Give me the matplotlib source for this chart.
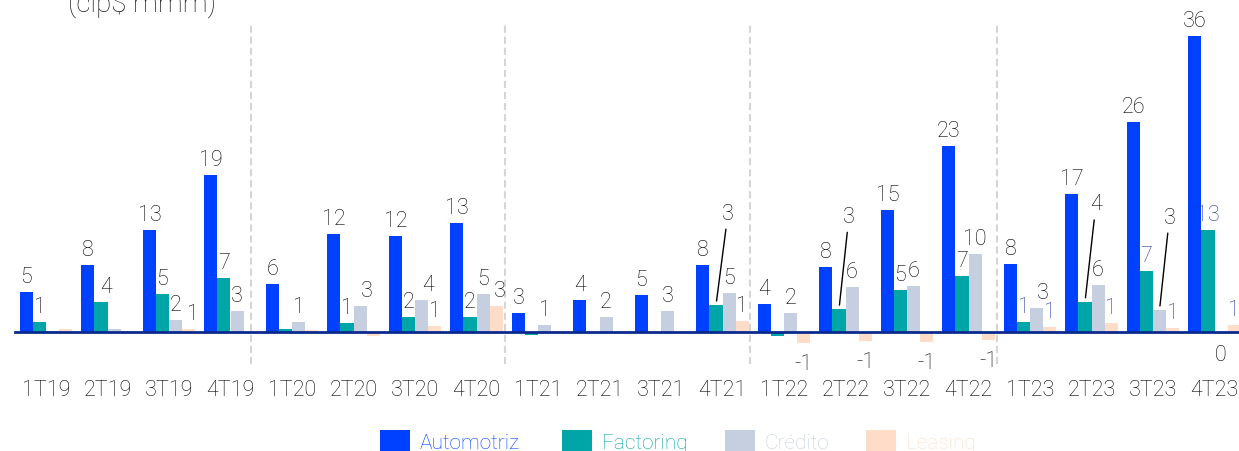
import numpy as np
import matplotlib
matplotlib.use("Agg")
import matplotlib.pyplot as plt

quarters = ["1T19", "2T19", "3T19", "4T19", "1T20", "2T20", "3T20", "4T20", "1T21", "2T21",
            "3T21", "4T21", "1T22", "2T22", "3T22", "4T22", "1T23", "2T23", "3T23", "4T23"]
series_names = ["Automotriz", "Factoring", "Crédito", "Leasing"]

# values (clp$ mmm)
automotriz = [4.9, 8.2, 12.5, 19.1, 5.9, 12.0, 11.7, 13.3, 2.4, 3.9,
              4.5, 8.2, 3.5, 8.0, 14.9, 22.7, 8.3, 16.8, 25.6, 36.0]
factoring = [1.3, 3.7, 4.6, 6.6, 0.4, 1.1, 1.8, 1.8, -0.3, 0.0,
             0.0, 3.3, -0.4, 2.8, 5.2, 6.9, 1.3, 3.7, 7.4, 12.4]
credito = [0.2, 0.4, 1.5, 2.6, 1.3, 3.2, 3.9, 4.7, 0.9, 1.8,
           2.6, 4.8, 2.3, 5.5, 5.6, 9.5, 3.0, 5.8, 2.7, -0.2]
leasing = [0.4, 0.2, 0.4, 0.0, 0.3, -0.5, 0.8, 3.2, 0.2, 0.0,
           0.2, 1.4, -1.3, -1.1, -1.2, -0.9, 0.6, 1.1, 0.5, 0.9]

# printed labels (None = no label shown)
lbl_auto = [5, 8, 13, 19, 6, 12, 12, 13, 3, 4, 5, 8, 4, 8, 15, 23, 8, 17, 26, 36]
lbl_fact = [1, 4, 5, 7, None, 1, 2, 2, None, None, None, 3, None, 3, 5, 7, 1, 4, 7, 13]
lbl_cred = [None, None, 2, 3, 1, 3, 4, 5, 1, 2, 3, 5, 2, 6, 6, 10, 3, 6, 3, 0]
lbl_leas = [None, None, 1, None, None, None, 1, 3, None, None, None, 1, -1, -1, -1, -1, 1, 1, 1, 1]

colors = ["#0041FF", "#00A5A8", "#C5CFE0", "#FFDCC7"]
navy = "#233A9C"
txt = "#000000"

# (series, quarter) labels in navy
navy_lbls = {(1, 16), (3, 16), (3, 17), (1, 18), (3, 18), (1, 19), (3, 19)}
# labels lifted with a leader line, offset in pixels
leader = {(1, 11): (12, 92), (1, 13): (10, 93), (1, 17): (11, 98), (2, 18): (10, 93)}
# small horizontal nudges in pixels
nudge = {(1, 1): 5, (2, 5): 7, (2, 6): 7, (3, 7): 4, (3, 2): 4, (2, 16): 6}

plt.rcParams["font.family"] = ["Roboto", "DejaVu Sans"]
plt.rcParams["font.weight"] = "light"

fig = plt.figure(figsize=(12.39, 4.52), dpi=100)
ax = fig.add_axes([0, 80 / 452, 1, 372 / 452])

x = np.arange(len(quarters))
w = 0.2114
fs = 15.5
series = [automotriz, factoring, credito, leasing]
labels = [lbl_auto, lbl_fact, lbl_cred, lbl_leas]
handles = []
for k in range(4):
    bars = ax.bar(x + (k - 1.5) * w, series[k], w, color=colors[k], linewidth=0,
                  label=series_names[k], zorder=2)
    handles.append(bars)
    for i, (b, v, l) in enumerate(zip(bars, series[k], labels[k])):
        if l is None:
            continue
        cx = b.get_x() + b.get_width() / 2
        col = navy if (k, i) in navy_lbls else txt
        if (k, i) in leader:
            dx, dy = leader[(k, i)]
            ax.annotate(str(l), xy=(cx, v), xytext=(dx, dy), textcoords="offset pixels",
                        ha="center", va="center", fontsize=fs, color=col,
                        arrowprops=dict(arrowstyle="-", color="black", lw=1,
                                        shrinkA=2, shrinkB=3))
        elif v >= 0:
            ax.annotate(str(l), xy=(cx, v), xytext=(nudge.get((k, i), 0), 10),
                        textcoords="offset pixels", ha="center", va="baseline",
                        fontsize=fs, color=col)
        else:
            ax.annotate(str(l), xy=(cx, v), xytext=(nudge.get((k, i), 0), -10),
                        textcoords="offset pixels", ha="center", va="top",
                        fontsize=fs, color=col)

ax.axhline(0, xmin=15 / 1239, color="#0B2A8C", lw=2.0, zorder=3)

# dashed separators between years
for s in [3.34, 7.47, 11.44, 15.46]:
    ax.plot([s, s], [-3.9, 37.5], ls=(0, (3.4, 1.9)), color="#D5D5D5", lw=1.5, zorder=1)

ax.set_xlim(-46 / 61.5, (1239 - 46) / 61.5)
ax.set_ylim(-4.71, 40.55)
ax.set_xticks(x, quarters)
ax.set_yticks([])
ax.tick_params(axis="x", length=0, pad=6, labelsize=fs, labelcolor=txt)
for sp in ax.spines.values():
    sp.set_visible(False)

fig.text(68 / 1239, 1 - 11.5 / 452, "(clp$ mmm)", ha="left", va="baseline",
         fontsize=20, color="#222222")

# one legend entry per slot so the uneven spacing of the original can be kept
for name, h, c, bx in zip(series_names, handles, colors, [380, 562, 725, 866]):
    leg = fig.legend(handles=[h], labels=[name], loc="center left",
                     bbox_to_anchor=(bx / 1239, 10 / 452), frameon=False, fontsize=15,
                     handlelength=1.45, handleheight=1.15, handletextpad=0.45,
                     borderpad=0, borderaxespad=0)
    leg.get_texts()[0].set_color(c)

fig.savefig("out.png", dpi=100)
